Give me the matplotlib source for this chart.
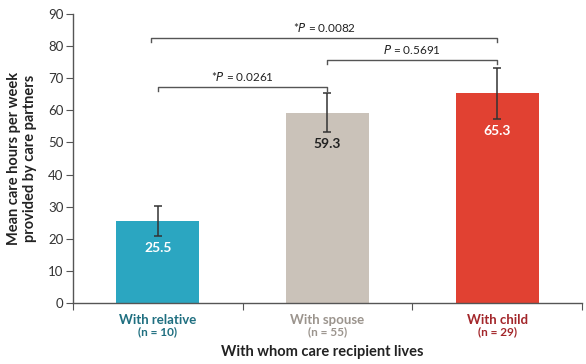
import matplotlib.pyplot as plt

plt.rcParams['font.family'] = ['Lato', 'DejaVu Sans']

# Mean weekly care hours by living arrangement
groups = ['With relative', 'With spouse', 'With child']
n_sizes = [10, 55, 29]
means = [25.5, 59.3, 65.3]
errors = [4.6, 6.1, 8.0]
bar_colors = ['#2ba6c1', '#cac2b9', '#e14132']
label_colors = ['#1f6f80', '#9b948d', '#a3262a']
value_colors = ['white', '#222222', 'white']

# pairwise comparisons: (left group, right group, height, label)
comparisons = [
    (0, 1, 67.3, '*$P$ = 0.0261'),
    (1, 2, 75.7, '$P$ = 0.5691'),
    (-0.04, 2, 82.5, '*$P$ = 0.0082'),
]

fig = plt.figure(figsize=(5.86, 3.64), dpi=100)
ax = fig.add_axes([0.1246, 0.1676, 0.8684, 0.794])

x = list(range(len(groups)))
ax.bar(x, means, width=0.49, color=bar_colors, zorder=2)
ax.errorbar(x, means, yerr=errors, fmt='none', ecolor='#333333',
            elinewidth=1.1, capsize=3, capthick=1.1, zorder=3)

for xi, m, e, c in zip(x, means, errors, value_colors):
    ax.text(xi, m - e - 3.8, f'{m:.1f}', ha='center', va='center',
            color=c, fontsize=10, fontweight='bold', zorder=4)

for x0, x1, h, label in comparisons:
    ax.plot([x0, x0, x1, x1], [h - 1.2, h, h, h - 1.2],
            color='#555555', lw=1.0, zorder=3)
    ax.text((x0 + x1) / 2, h + 1.3, label, ha='center', va='bottom',
            fontsize=8.5, color='#222222')

ax.set_xlim(-0.5, 2.5)
ax.set_ylim(0, 90)
ax.set_yticks(range(0, 91, 10))
ax.set_xticks([-0.5, 0.5, 1.5, 2.5])
ax.set_xticklabels([])
ax.tick_params(axis='x', direction='out', length=5, color='#555555')
ax.tick_params(axis='y', direction='out', length=5, color='#555555',
               labelsize=9.5, labelcolor='#333333', pad=2)

for xi, g, n, c in zip(x, groups, n_sizes, label_colors):
    ax.text(xi, -5.3, g, ha='center', va='center', fontsize=9.5,
            fontweight='bold', color=c, clip_on=False)
    ax.text(xi, -9.0, f'(n = {n})', ha='center', va='center', fontsize=8.5,
            fontweight='bold', color=c, clip_on=False)

for s in ['top', 'right']:
    ax.spines[s].set_visible(False)
for s in ['left', 'bottom']:
    ax.spines[s].set_color('#555555')
    ax.spines[s].set_linewidth(1.0)

ax.set_ylabel('Mean care hours per week\nprovided by care partners',
              fontsize=10.5, fontweight='bold', color='#222222', labelpad=8)
fig.text(0.55, 0.033, 'With whom care recipient lives', ha='center',
         va='center', fontsize=10.5, fontweight='bold', color='#222222')

fig.savefig('out.png', dpi=100)
